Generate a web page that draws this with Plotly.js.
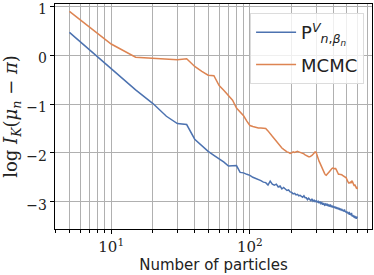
<!DOCTYPE html>
<html>
<head>
<meta charset="utf-8">
<script src="https://cdn.plot.ly/plotly-3.0.1.min.js"></script>
<style>html,body{margin:0;padding:0;background:#fff;}#chart{width:374px;height:275px;}</style>
</head>
<body>
<div id="chart"></div>
<script>
// Number of particles
var particles = [];
for (var n = 5; n <= 595; n += 5) particles.push(n);

// P^V_{n,beta_n}
var pvValues = [
  0.47, -0.28, -0.71, -0.99, -1.25, -1.40, -1.42, -1.72, -1.86, -1.97,
  -2.05, -2.12, -2.19, -2.27, -2.27, -2.26, -2.40, -2.41, -2.44, -2.46,
  -2.50, -2.52, -2.55, -2.57, -2.60, -2.61, -2.66, -2.58, -2.64, -2.66,
  -2.64, -2.70, -2.68, -2.74, -2.71, -2.75, -2.77, -2.76, -2.80, -2.81,
  -2.84, -2.83, -2.86, -2.85, -2.88, -2.87, -2.89, -2.91, -2.88, -2.92,
  -2.92, -2.96, -2.93, -2.96, -2.98, -2.94, -2.99, -2.97, -3.00, -2.98,
  -3.01, -2.99, -3.03, -3.00, -3.04, -3.02, -3.06, -3.03, -3.07, -3.05,
  -3.08, -3.04, -3.09, -3.07, -3.10, -3.06, -3.11, -3.08, -3.12, -3.09,
  -3.13, -3.10, -3.14, -3.11, -3.15, -3.12, -3.16, -3.13, -3.17, -3.14,
  -3.18, -3.15, -3.19, -3.17, -3.20, -3.16, -3.21, -3.19, -3.23, -3.20,
  -3.24, -3.22, -3.26, -3.21, -3.27, -3.24, -3.28, -3.23, -3.30, -3.27,
  -3.31, -3.28, -3.33, -3.29, -3.34, -3.30, -3.35, -3.31, -3.33
];

// MCMC
var mcmcValues = [
  0.90, 0.23, -0.04, -0.06, -0.07, -0.09, -0.07, -0.23, -0.33, -0.41,
  -0.42, -0.62, -0.72, -0.82, -0.92, -1.08, -1.17, -1.24, -1.35, -1.44,
  -1.46, -1.48, -1.49, -1.49, -1.50, -1.50, -1.55, -1.62, -1.66, -1.71,
  -1.76, -1.82, -1.86, -1.90, -1.93, -1.96, -1.98, -1.99, -2.01, -2.00,
  -1.98, -1.99, -1.98, -1.97, -1.98, -1.99, -1.99, -2.00, -2.02, -2.04,
  -2.06, -2.07, -2.08, -2.08, -2.07, -2.05, -2.03, -2.00, -1.98, -1.99,
  -2.07, -2.12, -2.17, -2.21, -2.26, -2.31, -2.35, -2.39, -2.42, -2.45,
  -2.46, -2.44, -2.41, -2.39, -2.38, -2.36, -2.33, -2.32, -2.31, -2.31,
  -2.32, -2.33, -2.32, -2.35, -2.39, -2.42, -2.44, -2.44, -2.44, -2.44,
  -2.44, -2.45, -2.46, -2.47, -2.48, -2.49, -2.50, -2.50, -2.51, -2.55,
  -2.58, -2.60, -2.62, -2.62, -2.60, -2.60, -2.62, -2.58, -2.57, -2.60,
  -2.64, -2.66, -2.68, -2.65, -2.68, -2.70, -2.72, -2.71, -2.74
];

var xMajorTicks = [10, 100];
var xMajorLabels = ['10<sup>1</sup>', '10<sup>2</sup>'];
var xMinorTicks = [4, 5, 6, 7, 8, 9, 20, 30, 40, 50, 60, 70, 80, 90, 200, 300, 400, 500, 600, 700];
var yTicks = [-3, -2, -1, 0, 1];
var yLabels = ['\u22123', '\u22122', '\u22121', '0', '1'];

var serif = '"DejaVu Serif", "Liberation Serif", serif';
var sans = '"DejaVu Sans", sans-serif';
var gridColor = '#b0b0b0';

var traces = [
  {x: particles, y: pvValues, type: 'scatter', mode: 'lines', legendgroup: 'a',
   name: 'P<sup><i>V</i></sup><sub><i>n</i>,<i>β</i><sub><i>n</i></sub></sub>',
   line: {color: '#4C72B0', width: 1.5}},
  {x: particles, y: mcmcValues, type: 'scatter', mode: 'lines', legendgroup: 'b',
   name: 'MCMC', line: {color: '#DD8452', width: 1.5}}
];

var layout = {
  width: 374, height: 275,
  margin: {l: 55, r: 2, t: 4, b: 46},
  paper_bgcolor: '#fff', plot_bgcolor: '#fff',
  showlegend: true,
  legend: {x: 0.975, y: 0.96, xanchor: 'right', yanchor: 'top',
           bgcolor: 'rgba(255,255,255,0.8)', bordercolor: '#dcdcdc', borderwidth: 1,
           font: {family: sans, size: 18, color: '#222'}, tracegroupgap: 6, itemwidth: 40},
  xaxis: {
    type: 'log', range: [0.595, 2.88],
    tickmode: 'array', tickvals: xMajorTicks, ticktext: xMajorLabels,
    ticks: 'outside', ticklen: 4, tickwidth: 1, tickcolor: '#000',
    showgrid: true, gridcolor: gridColor, gridwidth: 1,
    minor: {tickmode: 'array', tickvals: xMinorTicks, ticks: 'outside', ticklen: 2.5,
            tickcolor: '#000', showgrid: true, gridcolor: gridColor, gridwidth: 1},
    showline: true, mirror: true, linecolor: '#000', linewidth: 1.3,
    zeroline: false,
    tickfont: {family: serif, size: 15, color: '#222'},
    title: {text: 'Number of particles', font: {family: sans, size: 15, color: '#222'}, standoff: 4}
  },
  yaxis: {
    range: [-3.56, 1.05],
    tickmode: 'array', tickvals: yTicks, ticktext: yLabels,
    ticklabeloverflow: 'allow', ticklabelshift: 3,
    ticks: 'outside', ticklen: 4, tickwidth: 1, tickcolor: '#000',
    showgrid: true, gridcolor: gridColor, gridwidth: 1,
    showline: true, mirror: true, linecolor: '#000', linewidth: 1.3,
    zeroline: false,
    tickfont: {family: serif, size: 14, color: '#222'},
    title: {text: 'log <i>I</i><sub><i>K</i></sub>(<i>μ</i><sub><i>n</i></sub> − <i>π</i>)',
            font: {family: serif, size: 18, color: '#222'}, standoff: 5}
  }
};

Plotly.newPlot('chart', traces, layout, {staticPlot: true, displayModeBar: false});
</script>
</body>
</html>
